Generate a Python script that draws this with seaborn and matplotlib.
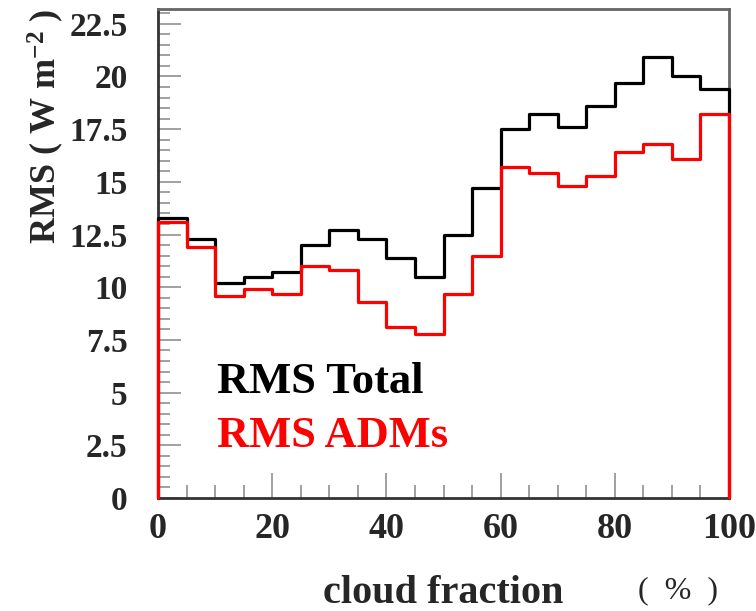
import numpy as np
import pandas as pd
import matplotlib
matplotlib.use("Agg")
import matplotlib.pyplot as plt
from matplotlib.ticker import MultipleLocator, FixedLocator, FixedFormatter
import seaborn as sns

# ---- data ----
bin_edges = [0, 5, 10, 15, 20, 25, 30, 35, 40, 45, 50, 55, 60, 65, 70, 75, 80, 85, 90, 95, 100]
rms_total = [13.3, 12.3, 10.2, 10.5, 10.7, 12.0, 12.7, 12.3, 11.4, 10.5,
             12.5, 14.7, 17.5, 18.2, 17.6, 18.6, 19.7, 20.9, 20.0, 19.4]
rms_adms = [13.1, 11.9, 9.6, 9.9, 9.7, 11.0, 10.8, 9.3, 8.1, 7.8,
            9.7, 11.5, 15.7, 15.4, 14.8, 15.3, 16.4, 16.8, 16.1, 18.2]
series_names = ["RMS Total", "RMS ADMs"]
series_colors = ["#000000", "#ff0000"]
x_ticks = [0, 20, 40, 60, 80, 100]
x_tick_labels = ["0", "20", "40", "60", "80", "100"]
y_ticks = [0, 2.5, 5, 7.5, 10, 12.5, 15, 17.5, 20, 22.5]
y_tick_labels = ["0", "2.5", "5", "7.5", "10", "12.5", "15", "17.5", "20", "22.5"]

sns.set_style("white")
plt.rcParams["font.family"] = ["Liberation Serif", "DejaVu Serif"]
plt.rcParams["font.weight"] = "bold"
plt.rcParams["mathtext.fontset"] = "custom"
plt.rcParams["mathtext.rm"] = "Liberation Serif:bold"
plt.rcParams["mathtext.bf"] = "Liberation Serif:bold"
plt.rcParams["mathtext.it"] = "Liberation Serif:bold:italic"


def step_frame(values, name):
    xs = [bin_edges[0]] + bin_edges[:-1] + [bin_edges[-1], bin_edges[-1]]
    ys = [0] + list(values) + [values[-1], 0]
    return pd.DataFrame({"x": xs, "y": ys, "series": name})


df = pd.concat([step_frame(rms_total, series_names[0]),
                step_frame(rms_adms, series_names[1])], ignore_index=True)

fig = plt.figure(figsize=(7.56, 6.11), dpi=100)
ax = fig.add_axes([158 / 756, 1 - 498 / 611, 571 / 756, 489 / 611])

sns.lineplot(data=df, x="x", y="y", hue="series", hue_order=series_names,
             palette=series_colors, estimator=None, sort=False,
             drawstyle="steps-post", linewidth=2.3, legend=False, ax=ax,
             zorder=3, clip_on=False)

ax.set_xlim(0, 100)
ax.set_ylim(0, 23.2)

ax.xaxis.set_major_locator(FixedLocator(x_ticks))
ax.xaxis.set_major_formatter(FixedFormatter(x_tick_labels))
ax.xaxis.set_minor_locator(MultipleLocator(5))
ax.yaxis.set_major_locator(FixedLocator(y_ticks))
ax.yaxis.set_major_formatter(FixedFormatter(y_tick_labels))
ax.yaxis.set_minor_locator(MultipleLocator(0.5))

ax.tick_params(axis="both", which="both", direction="in", color="#a0a0a0", width=1.4,
               bottom=True, left=True, top=False, right=False)
ax.tick_params(axis="y", which="major", length=16.5, labelsize=24, pad=22)
ax.tick_params(axis="y", which="minor", length=8.5)
ax.tick_params(axis="x", which="major", length=18, labelsize=26, pad=11)
ax.tick_params(axis="x", which="minor", length=9.5)
for lab in ax.get_xticklabels() + ax.get_yticklabels():
    lab.set_fontweight("bold")

for side in ["top", "right", "left", "bottom"]:
    ax.spines[side].set_color("#666666")
    ax.spines[side].set_linewidth(2)
ax.spines["bottom"].set_color("#333333")
ax.spines["left"].set_color("#333333")

ax.set_ylabel(r"RMS ( W m$^{-2}$ )", fontsize=26, fontweight="bold", loc="top", labelpad=2)
ax.set_xlabel("cloud fraction", fontsize=29, fontweight="bold", labelpad=21)

ax.text(0.103, 0.215, series_names[0], transform=ax.transAxes, color=series_colors[0],
        fontsize=32, fontweight="bold", va="baseline", ha="left")
ax.text(0.103, 0.104, series_names[1], transform=ax.transAxes, color=series_colors[1],
        fontsize=32, fontweight="bold", va="baseline", ha="left")

fig.text(678 / 756, 1 - 591 / 611, "(  %  )", fontsize=23, fontweight="normal",
         ha="center", va="center")

fig.savefig("out.png", dpi=100)
